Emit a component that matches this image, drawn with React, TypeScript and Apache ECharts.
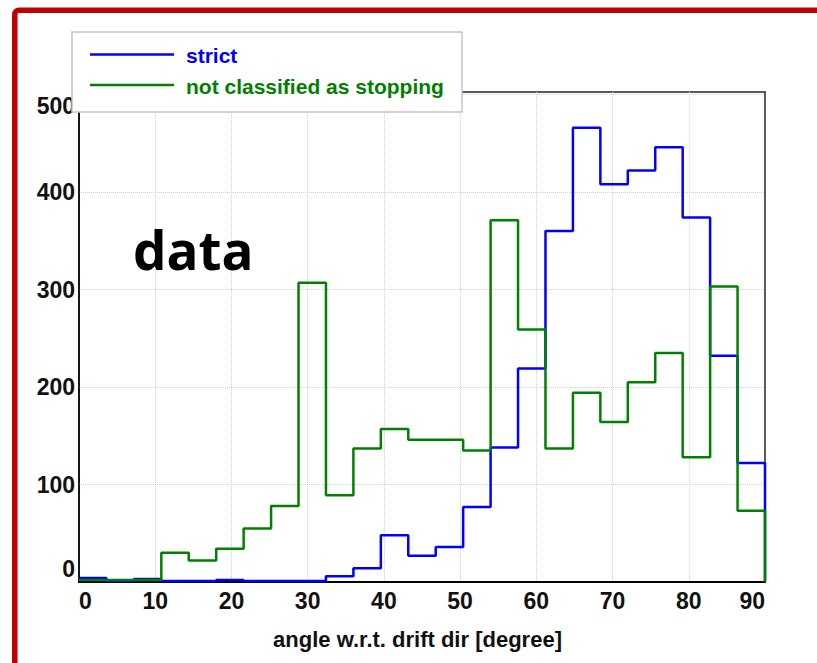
import React, { useEffect, useRef } from "react";
import * as echarts from "echarts";

const binEdges = [0, 3.6, 7.2, 10.8, 14.4, 18, 21.6, 25.2, 28.8, 32.4, 36, 39.6, 43.2, 46.8, 50.4, 54, 57.6, 61.2, 64.8, 68.4, 72, 75.6, 79.2, 82.8, 86.4, 90];
const strictCounts = [4, 1, 3, 1, 1, 2, 1, 1, 1, 6, 14, 48, 27, 36, 77, 138, 219, 360, 466, 408, 422, 446, 374, 232, 122];
const notStoppingCounts = [2, 2, 2, 30, 22, 34, 55, 78, 307, 89, 137, 157, 146, 146, 135, 371, 259, 137, 194, 164, 205, 235, 128, 303, 73];
const seriesNames = ["strict", "not classified as stopping"];
const seriesColors = ["#0000ff", "#008000"];
const xTicks = [0, 10, 20, 30, 40, 50, 60, 70, 80, 90];
const yTicks = [0, 100, 200, 300, 400, 500];
const xTitle = "angle w.r.t. drift dir [degree]";
const annotation = "data";

function stepPoints(values: number[]) {
  return binEdges.map((e, i) => [e, i < values.length ? values[i] : 0]);
}

export default function App() {
  const ref = useRef<HTMLDivElement>(null);
  useEffect(() => {
    if (!ref.current) return;
    const chart = echarts.init(ref.current, undefined, { renderer: "svg" });
    const labelFont = "Liberation Sans, Arial, sans-serif";
    const option: any = {
      animation: false,
      backgroundColor: "#ffffff",
      grid: {
        left: 79,
        right: 52,
        top: 92,
        bottom: 81,
        show: true,
        borderColor: "#5a5a5a",
        borderWidth: 2,
        backgroundColor: "transparent",
      },
      xAxis: {
        type: "value",
        min: xTicks[0],
        max: xTicks[xTicks.length - 1],
        interval: 10,
        name: xTitle,
        nameLocation: "middle",
        nameGap: 46,
        nameTextStyle: {
          fontFamily: labelFont,
          fontSize: 22,
          fontWeight: "bold",
          color: "#111",
          padding: [0, 9, 0, 0],
        },
        axisLine: { show: true, lineStyle: { color: "#000", width: 2 } },
        axisTick: { show: false },
        splitLine: { show: true, showMinLine: false, showMaxLine: false, lineStyle: { color: "#cfcfcf", type: "dotted", width: 1 } },
        axisLabel: {
          margin: 7,
          fontFamily: labelFont,
          fontSize: 23,
          fontWeight: "bold",
          color: "#111",
          alignMinLabel: "left",
          alignMaxLabel: "right",
        },
      },
      yAxis: {
        type: "value",
        min: 0,
        max: 502.6,
        interval: 100,
        axisLine: { show: true, lineStyle: { color: "#000", width: 1.5 } },
        axisTick: { show: false },
        splitLine: { show: true, showMinLine: false, showMaxLine: false, lineStyle: { color: "#cfcfcf", type: "dotted", width: 1 } },
        axisLabel: {
          margin: 4,
          fontFamily: labelFont,
          fontSize: 23,
          fontWeight: "bold",
          color: "#111",
          formatter: (v: number) => {
            if (!yTicks.includes(Math.round(v * 1000) / 1000)) return "";
            if (v === yTicks[0]) return "{bot|" + v + "}";
            if (v === yTicks[yTicks.length - 1]) return "{top|" + v + "}";
            return "" + v;
          },
          rich: {
            bot: { fontFamily: labelFont, fontSize: 23, fontWeight: "bold", color: "#111", padding: [0, 0, 26, 0] },
            top: { fontFamily: labelFont, fontSize: 23, fontWeight: "bold", color: "#111", padding: [23, 0, 0, 0] },
          },
        },
      },
      series: [
        {
          name: seriesNames[0],
          type: "line",
          step: "end",
          symbol: "none",
          data: stepPoints(strictCounts),
          lineStyle: { color: seriesColors[0], width: 2.5 },
          itemStyle: { color: seriesColors[0] },
          z: 3,
        },
        {
          name: seriesNames[1],
          type: "line",
          step: "end",
          symbol: "none",
          data: stepPoints(notStoppingCounts),
          lineStyle: { color: seriesColors[1], width: 2.5 },
          itemStyle: { color: seriesColors[1] },
          z: 4,
        },
      ],
      graphic: [
        {
          type: "rect",
          z: 200,
          silent: true,
          shape: { x: 14.8, y: 10.3, width: 1000, height: 1000, r: 4 },
          style: { fill: "none", stroke: "#c00000", lineWidth: 5.5 },
        },
        {
          type: "text",
          z: 50,
          style: {
            text: annotation,
            x: 133,
            y: 249,
            fill: "#000",
            fontFamily: "Open Sans, Noto Sans, sans-serif",
            fontWeight: "bold",
            fontSize: 53,
            verticalAlign: "middle",
          },
        },
        {
          type: "group",
          z: 100,
          children: [
            {
              type: "rect",
              z: 100,
              shape: { x: 72, y: 32, width: 390, height: 80 },
              style: { fill: "#ffffff", stroke: "#c4c4c4", lineWidth: 1.5 },
            },
            {
              type: "line",
              z: 101,
              shape: { x1: 90, y1: 54.5, x2: 174, y2: 54.5 },
              style: { stroke: seriesColors[0], lineWidth: 2.5 },
            },
            {
              type: "line",
              z: 101,
              shape: { x1: 90, y1: 85, x2: 174, y2: 85 },
              style: { stroke: seriesColors[1], lineWidth: 2.5 },
            },
            {
              type: "text",
              z: 101,
              style: {
                text: seriesNames[0],
                x: 186,
                y: 55,
                fill: seriesColors[0],
                fontFamily: labelFont,
                fontWeight: "bold",
                fontSize: 21,
                verticalAlign: "middle",
              },
            },
            {
              type: "text",
              z: 101,
              style: {
                text: seriesNames[1],
                x: 186,
                y: 86,
                fill: seriesColors[1],
                fontFamily: labelFont,
                fontWeight: "bold",
                fontSize: 21,
                verticalAlign: "middle",
              },
            },
          ],
        },
      ],
    };
    chart.setOption(option);
    return () => chart.dispose();
  }, []);
  return (
    <div
      ref={ref}
      style={{ position: "fixed", left: 0, top: 0, width: 817, height: 663, background: "#fff" }}
    />
  );
}
